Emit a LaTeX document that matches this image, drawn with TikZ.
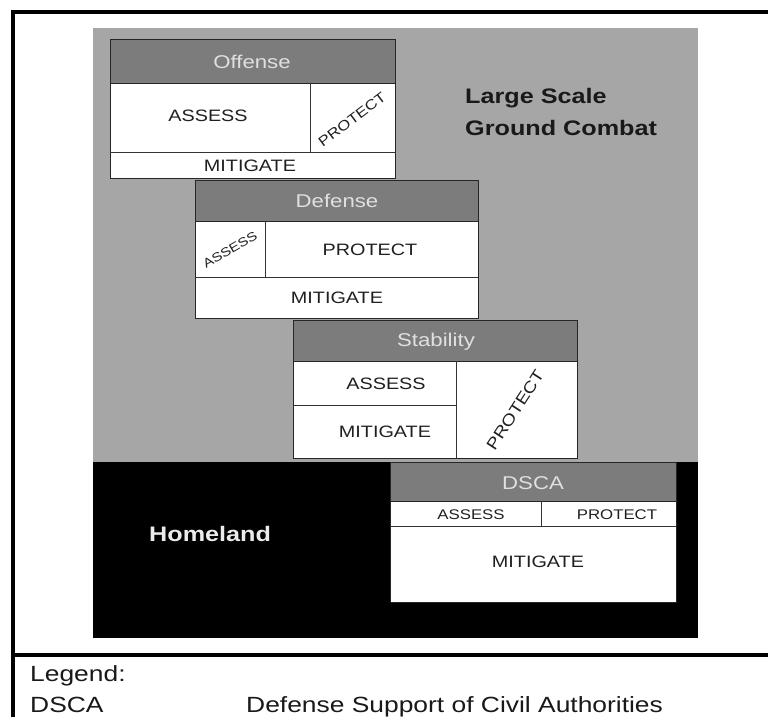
\documentclass[tikz,border=0pt]{standalone}
\usepackage{fontspec}
\setmainfont{Liberation Sans}[FakeStretch=1.2]
\definecolor{bggray}{HTML}{A6A6A6}
\definecolor{hdrgray}{HTML}{7C7C7C}
\definecolor{hdrtext}{HTML}{E0E0E0}
\definecolor{bodytext}{HTML}{202020}
\begin{document}
\begin{tikzpicture}[x=1pt,y=-1pt,
  hdr/.style={fill=hdrgray, draw=black!85, line width=0.9pt},
  cellbox/.style={fill=white, draw=black!85, line width=0.9pt},
  divline/.style={draw=black!80, line width=0.8pt},
  txt/.style={inner sep=0pt, text depth=0pt},
  hdrtxt/.style={txt, text height=13.2pt, text=hdrtext, font=\fontsize{18.5}{20}\selectfont},
  bodytxt/.style={txt, text height=11.8pt, text=bodytext, font=\fontsize{16.5}{18}\selectfont},
  smalltxt/.style={txt, text height=10pt, text=bodytext, font=\fontsize{14}{16}\selectfont},
  regiontxt/.style={inner sep=0pt, anchor=base west, font=\fontsize{21}{24}\selectfont\bfseries},
  legtxt/.style={inner sep=0pt, anchor=base west, text=black!90, font=\fontsize{22}{24}\selectfont}
]
\useasboundingbox (0,0) rectangle (768,717);
\fill[white] (0,0) rectangle (768,717);
% regions
\fill[bggray] (93,28) rectangle (698,462);
\fill[black] (93,462) rectangle (698,638);
% outer frame
\draw[line width=4pt, black] (12.5,720) -- (12.5,12) -- (772,12);
\draw[line width=4pt, black] (12.5,655) -- (772,655);

% Offense
\draw[cellbox] (110,39) rectangle (395,178);
\draw[hdr] (110,39) rectangle (395,83);
\draw[divline] (110,152) -- (395,152);
\draw[divline] (310,83) -- (310,152);
\node[hdrtxt] (offh) at (252,62) {Offense};
\node[bodytxt] (offa) at (208,116) {ASSESS};
\node[txt, text height=10pt, text=bodytext, font=\fontsize{14}{16}\selectfont, rotate=37] (offp) at (352,119) {PROTECT};
\node[bodytxt] (offm) at (250,166) {MITIGATE};

% Defense
\draw[cellbox] (195,180) rectangle (478,318);
\draw[hdr] (195,180) rectangle (478,221);
\draw[divline] (195,277) -- (478,277);
\draw[divline] (265,221) -- (265,277);
\node[hdrtxt] (defh) at (337,201) {Defense};
\node[txt, text height=8.9pt, text=bodytext, font=\fontsize{12.5}{14}\selectfont, rotate=30] (defa) at (230,250) {ASSESS};
\node[bodytxt] (defp) at (370,250) {PROTECT};
\node[bodytxt] (defm) at (337,298) {MITIGATE};

% Stability
\draw[cellbox] (293,320) rectangle (577,458);
\draw[hdr] (293,320) rectangle (577,361);
\draw[divline] (456,361) -- (456,458);
\draw[divline] (293,405) -- (456,405);
\node[hdrtxt] (stah) at (436,340) {Stability};
\node[bodytxt] (staa) at (386,384) {ASSESS};
\node[bodytxt] (stam) at (385,432) {MITIGATE};
\node[txt, text height=11.5pt, text=bodytext, font=\fontsize{16}{18}\selectfont, rotate=57] (stap) at (515,410) {PROTECT};

% DSCA
\draw[cellbox] (390,462) rectangle (676,602);
\draw[hdr] (390,462) rectangle (676,501);
\draw[divline] (390,526) -- (676,526);
\draw[divline] (541,501) -- (541,526);
\node[hdrtxt] (dsch) at (533,483) {DSCA};
\node[smalltxt] (dsca) at (471,514) {ASSESS};
\node[smalltxt] (dscp) at (617,514) {PROTECT};
\node[bodytxt] (dscm) at (538,562) {MITIGATE};

% region labels
\node[regiontxt, text=black!90] (lsgc1) at (465,103) {Large Scale};
\node[regiontxt, text=black!90] (lsgc2) at (465,135) {Ground Combat};
\node[regiontxt, text=white!92!black] (home) at (149,541) {Homeland};

% legend
\node[legtxt] (leg) at (30,681) {Legend:};
\node[legtxt] (legk) at (30,712) {DSCA};
\node[legtxt] (legv) at (246,712) {Defense Support of Civil Authorities};
\end{tikzpicture}
\end{document}
